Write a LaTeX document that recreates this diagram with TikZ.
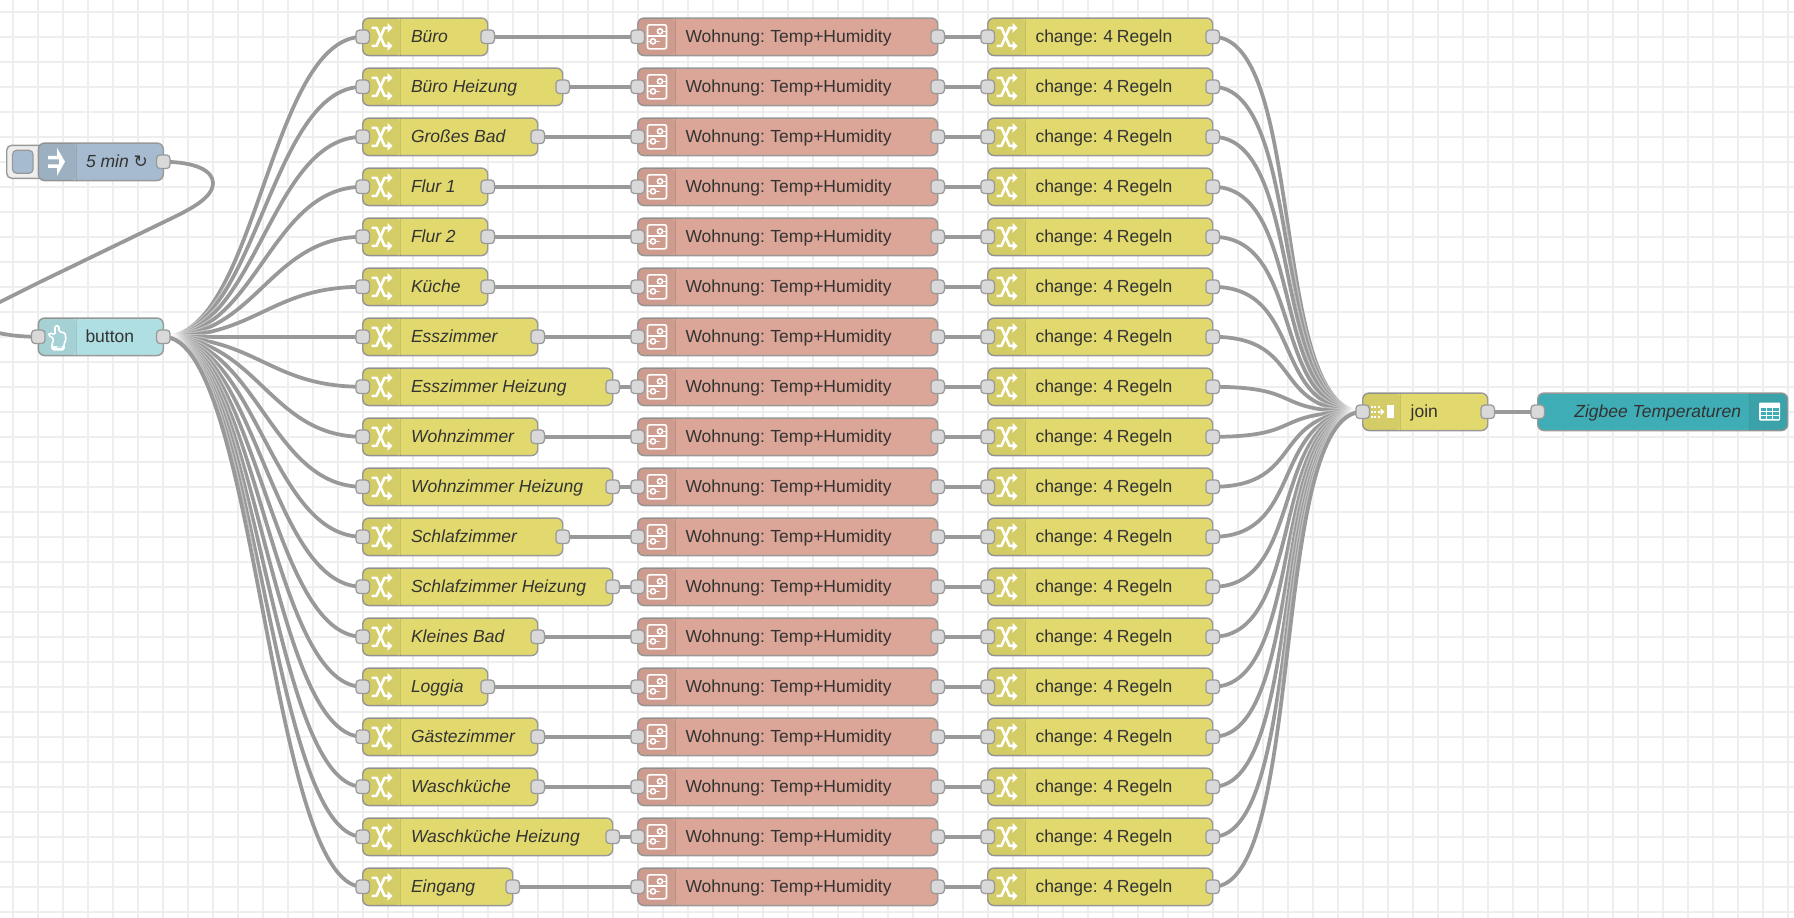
\documentclass[tikz,border=0pt]{standalone}
\usepackage{fontspec}
\setmainfont{Liberation Sans}
\newfontfamily\symfont{DejaVu Sans}
\newcommand{\tightwords}{\spaceskip=3.9pt\relax}
\pgfdeclarelayer{gridlayer}
\pgfdeclarelayer{wirelayer}
\pgfsetlayers{gridlayer,wirelayer,main}
\definecolor{gridc}{HTML}{EEEEEE}
\definecolor{wirec}{HTML}{999999}
\definecolor{portc}{HTML}{D9D9D9}
\definecolor{textc}{HTML}{333333}
\definecolor{yellowc}{HTML}{E2D96E}
\definecolor{salmonc}{HTML}{DBA697}
\definecolor{injectc}{HTML}{A6BBCF}
\definecolor{buttonc}{HTML}{B0DFE3}
\definecolor{tablec}{HTML}{3FADB5}
\tikzset{
  x=1pt,y=-1pt,
  flowbox/.style={draw=wirec,line width=1.4pt,rounded corners=6.25pt,minimum height=37.5pt,inner sep=0pt,outer sep=0pt,anchor=west},
  flowport/.style={draw=wirec,fill=portc,line width=1.25pt,rounded corners=3.5pt,minimum size=13.5pt,inner sep=0pt,outer sep=0pt},
  flowlabel/.style={text=textc,inner sep=0pt,outer sep=0pt,anchor=base west,font=\fontsize{17.5}{20}\selectfont},
  namedlabel/.style={text=textc,inner sep=0pt,outer sep=0pt,anchor=base west,font=\fontsize{17.5}{20}\selectfont\itshape},
  wireback/.style={draw=white,draw opacity=0.4,line width=6.25pt,line cap=round},
  wirefront/.style={draw=wirec,line width=3.75pt},
  iconline/.style={draw=white,line width=1.6pt,line join=round,line cap=round},
  pics/switchicon/.style={code={
    \draw[draw=white,line width=2.6pt,line join=round] (-10,-9) -- (-5,-9) -- (3,9) -- (7,9);
    \draw[draw=white,line width=2.6pt,line join=round] (-10,9) -- (-5,9) -- (3,-9) -- (7,-9);
    \fill[white] (6,-14) -- (11,-9) -- (6,-4) -- cycle;
    \fill[white] (6,14) -- (11,9) -- (6,4) -- cycle;
  }},
  pics/templateicon/.style={code={
    \draw[iconline,rounded corners=2pt] (-9.5,-12) rectangle (9.5,12);
    \draw[iconline] (-9.5,-1) -- (9.5,-1);
    \draw[iconline] (3,-5.5) circle[radius=2.6pt];
    \draw[iconline] (5.6,-5.5) -- (9.5,-5.5);
    \draw[iconline] (-4,4.5) circle[radius=2.6pt];
    \draw[iconline] (-9.5,4.5) -- (-6.6,4.5);
    \draw[iconline] (-1.4,4.5) -- (2,4.5);
  }},
  pics/handicon/.style={code={
    \draw[iconline,rounded corners=1.5pt] (-3,2) -- (-9,-2) -- (-7,-4) -- (-2,-2) -- (-2,-11) -- (2,-11) -- (2,-5) -- (8,-4) -- (9,3) -- (7,7) -- (7,13) -- (-5,13) -- (-5,7) -- cycle;
    \fill[white] (-4,9) rectangle (6,12);
    \fill[buttonc] (0,9) rectangle (5,11);
  }},
  pics/injecticon/.style={code={
    \fill[white] (-9,-6) -- (0,-6) -- (0,-14) -- (8,0) -- (0,14) -- (0,6) -- (-9,6) -- (-9,2.5) -- (2,2.5) -- (2,-2.5) -- (-9,-2.5) -- cycle;
  }},
  pics/joinicon/.style={code={
    \foreach \px in {-11,-7.5,-4} \foreach \py in {-6,-1,4}
      \fill[white] (\px,\py) rectangle +(2.4,2.4);
    \fill[white] (-1,-3.5) -- (3,0) -- (-1,3.5) -- cycle;
    \fill[white] (5,-6.5) rectangle (12.5,6.5);
  }},
  pics/tableicon/.style={code={
    \fill[white,rounded corners=1pt] (-10.5,-9) rectangle (10.5,9);
    \fill[tablec] (-9,-3.8) rectangle (-3.6,-0.8);
    \fill[tablec] (-2.6,-3.8) rectangle (2.6,-0.8);
    \fill[tablec] (3.6,-3.8) rectangle (9,-0.8);
    \fill[tablec] (-9,0.4) rectangle (-3.6,3.4);
    \fill[tablec] (-2.6,0.4) rectangle (2.6,3.4);
    \fill[tablec] (3.6,0.4) rectangle (9,3.4);
    \fill[tablec] (-9,4.6) rectangle (-3.6,7.6);
    \fill[tablec] (-2.6,4.6) rectangle (2.6,7.6);
    \fill[tablec] (3.6,4.6) rectangle (9,7.6);
  }},
}
% name, left, centre y, width, fill
\newcommand{\flownode}[5]{%
  \node[flowbox,fill=#5,minimum width=#4 pt] (#1) at (#2,#3) {};
  \begin{scope}
    \clip[rounded corners=6.25pt] ([yshift=18.75pt]#1.west) rectangle ([xshift=38pt,yshift=-18.75pt]#1.west);
    \fill[black,opacity=0.06] ([yshift=18.75pt]#1.west) rectangle ([xshift=38pt,yshift=-18.75pt]#1.west);
  \end{scope}
  \draw[black,opacity=0.1,line width=1pt] ([xshift=38pt,yshift=18.75pt]#1.west) -- ([xshift=38pt,yshift=-18.75pt]#1.west);
}
\newcommand{\fwire}[2]{%
  \draw[wireback] (#1.center) .. controls ([xshift=93.75pt]#1.center) and ([xshift=-93.75pt]#2.center) .. (#2.center);
  \draw[wirefront] (#1.center) .. controls ([xshift=93.75pt]#1.center) and ([xshift=-93.75pt]#2.center) .. (#2.center);
}
\begin{document}
\begin{tikzpicture}
\useasboundingbox (0,0) rectangle (1794,918);
\begin{pgfonlayer}{gridlayer}
  \fill[white] (0,0) rectangle (1794,918);
  \foreach \k in {0,...,71} \draw[gridc,line width=1.6pt] ({13+25*\k},0) -- ({13+25*\k},918);
  \foreach \k in {0,...,36} \draw[gridc,line width=1.6pt] (0,{11.7+25*\k}) -- (1794,{11.7+25*\k});
\end{pgfonlayer}

% inject
\node[flowbox,fill=gridc,rounded corners=5pt,minimum width=40pt,minimum height=33pt] (injbtn) at (6.7,161.8) {};
\node[draw=wirec,fill=injectc,line width=1.2pt,rounded corners=4pt,minimum width=20.5pt,minimum height=23pt,inner sep=0pt] (injbtninner) at (22.8,161.8) {};
\flownode{inject}{38.3}{161.8}{125}{injectc}
\pic at (57,161.8) {injecticon};
\node[namedlabel] (injectlabel) at (86,167.5) {5 min {\symfont\fontsize{17}{18}\selectfont\itshape ↻}};
\node[flowport] (inject-out) at (inject.east) {};

% button
\flownode{button}{38.3}{336.8}{125}{buttonc}
\pic at (57,336.8) {handicon};
\node[flowlabel] (buttonlabel) at (85.5,342.5) {button};
\node[flowport] (button-in) at (button.west) {};
\node[flowport] (button-out) at (button.east) {};

% rows
\foreach \i/\w/\t in {0/125/Büro,1/200/Büro Heizung,2/175/Großes Bad,3/125/Flur 1,4/125/Flur 2,5/125/Küche,6/175/Esszimmer,7/250/Esszimmer Heizung,8/175/Wohnzimmer,9/250/Wohnzimmer Heizung,10/200/Schlafzimmer,11/250/Schlafzimmer Heizung,12/175/Kleines Bad,13/125/Loggia,14/175/Gästezimmer,15/175/Waschküche,16/250/Waschküche Heizung,17/150/Eingang}{
  \pgfmathsetmacro{\yc}{36.8+50*\i}
  \pgfmathsetmacro{\yb}{\yc+5.7}
  \flownode{a\i}{362.7}{\yc}{\w}{yellowc}
  \pic at (381.5,\yc) {switchicon};
  \node[namedlabel] (a\i-label) at (411,\yb) {\t};
  \node[flowport] (a\i-in) at (a\i.west) {};
  \node[flowport] (a\i-out) at (a\i.east) {};
  \flownode{b\i}{637.7}{\yc}{300}{salmonc}
  \pic at (657,\yc) {templateicon};
  \node[flowlabel] (b\i-label) at (685.5,\yb) {\tightwords Wohnung: Temp+Humidity};
  \node[flowport] (b\i-in) at (b\i.west) {};
  \node[flowport] (b\i-out) at (b\i.east) {};
  \flownode{c\i}{987.7}{\yc}{225}{yellowc}
  \pic at (1006.5,\yc) {switchicon};
  \node[flowlabel] (c\i-label) at (1035.5,\yb) {\tightwords change: 4 Regeln};
  \node[flowport] (c\i-in) at (c\i.west) {};
  \node[flowport] (c\i-out) at (c\i.east) {};
}

% join
\flownode{join}{1362.7}{411.8}{125}{yellowc}
\pic at (1381.5,411.8) {joinicon};
\node[flowlabel] (joinlabel) at (1410.7,417.5) {join};
\node[flowport] (join-in) at (join.west) {};
\node[flowport] (join-out) at (join.east) {};

% table
\node[flowbox,fill=tablec,minimum width=250pt] (table) at (1537.7,411.8) {};
\begin{scope}
  \clip[rounded corners=6.25pt] (1537.7,393.05) rectangle (1787.7,430.55);
  \fill[black,opacity=0.06] (1749.7,393.05) rectangle (1787.7,430.55);
\end{scope}
\draw[black,opacity=0.1,line width=1pt] (1749.7,393.05) -- (1749.7,430.55);
\pic at (1769.5,411.5) {tableicon};
\node[namedlabel,anchor=base east] (tablelabel) at (1741,417.5) {Zigbee Temperaturen};
\node[flowport] (table-in) at (table.west) {};

\coordinate (loopa) at (213,183);
\coordinate (loopb) at (167,220.5);
\coordinate (loopc) at (0,302);
\coordinate (loopd) at (-24,322);

\begin{pgfonlayer}{wirelayer}
  \clip (0,0) rectangle (1794,918);
  \foreach \s in {wireback,wirefront}{
    \draw[\s] (inject-out.center) .. controls (196,161.8) and (213,171) .. (loopa)
      .. controls (213,198) and (190,209.5) .. (loopb) -- (40,282) -- (loopc)
      .. controls (-16,311) and (-24,316) .. (loopd) .. controls (-16,332) and (10,336.8) .. (button-in.center);
  }
  \foreach \i in {0,...,17}{
    \fwire{button-out}{a\i-in}
  }
  \foreach \i in {0,...,17}{
    \fwire{a\i-out}{b\i-in}
    \fwire{b\i-out}{c\i-in}
  }
  \foreach \i in {0,...,17}{
    \fwire{c\i-out}{join-in}
  }
  \fwire{join-out}{table-in}
\end{pgfonlayer}
\end{tikzpicture}
\end{document}
